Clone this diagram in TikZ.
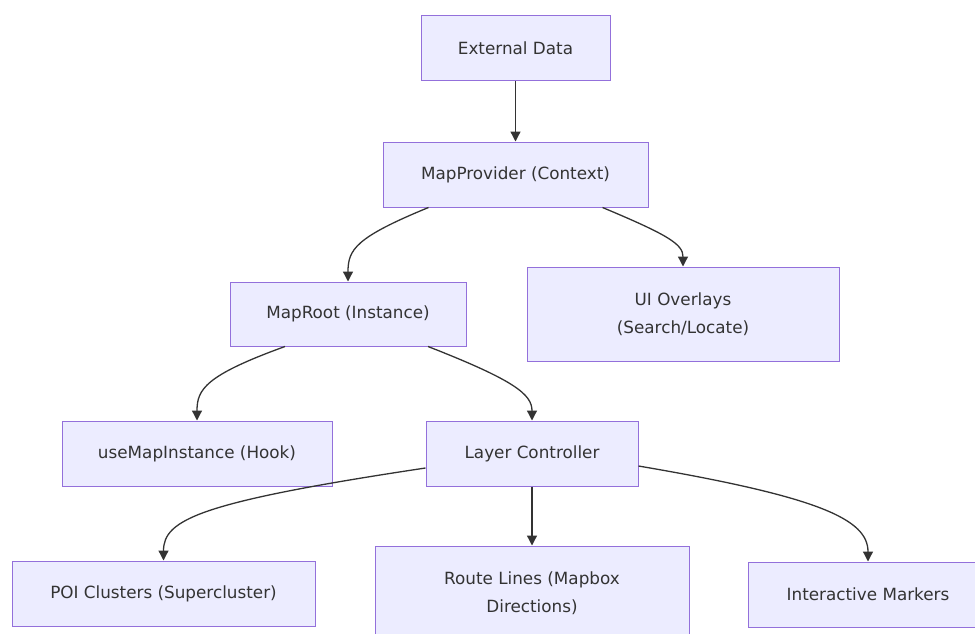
\documentclass[tikz,border=0pt]{standalone}
\usepackage{fontspec}
\setmainfont{DejaVu Sans}
\usetikzlibrary{arrows.meta}
\definecolor{boxfill}{HTML}{ECECFF}
\definecolor{boxline}{HTML}{9370DB}
\definecolor{edgecol}{HTML}{333333}

\begin{document}
\begin{tikzpicture}[x=1pt,y=-1pt,
	box/.style={draw=boxline,fill=boxfill,line width=1pt,text=edgecol,align=center,
		inner sep=0pt,font=\fontsize{16.8}{28}\selectfont},
	link/.style={draw=edgecol,line width=1.3pt,-{Triangle[length=10pt,width=10pt]}}]
	\useasboundingbox (0,0) rectangle (975,634);
	\clip (0,0) rectangle (975,634);
	% boxes
	\node[box,minimum width=189pt,minimum height=65pt] (ext) at (515.5,48.5) {External Data};
	\node[box,minimum width=265pt,minimum height=65pt] (prov) at (515.5,174.5) {MapProvider (Context)};
	\node[box,minimum width=236pt,minimum height=64pt] (root) at (348,314) {MapRoot (Instance)};
	\node[box,minimum width=312pt,minimum height=94pt] (ui) at (683,314) {UI Overlays\\(Search/Locate)};
	\node[box,minimum width=270pt,minimum height=65pt] (hook) at (197,453.5) {useMapInstance (Hook)};
	\node[box,minimum width=212pt,minimum height=65pt] (layer) at (532,453.5) {Layer Controller};
	\node[box,minimum width=303pt,minimum height=65pt] (poi) at (163.5,593.5) {POI Clusters (Supercluster)};
	\node[box,minimum width=314pt,minimum height=94pt] (route) at (532,593) {Route Lines (Mapbox\\Directions)};
	\node[box,minimum width=240pt,minimum height=65pt] (mark) at (868,594.5) {Interactive Markers};
	% links
	\draw[link] (ext) -- (prov);
	\draw[link] ([xshift=-87pt]prov.south) .. controls +(-73,30) and +(0,-32) .. (root.north);
	\draw[link] ([xshift=87pt]prov.south) .. controls +(67,28) and +(0,-22) .. (ui.north);
	\draw[link] ([xshift=-63pt]root.south) .. controls +(-80,29) and +(0,-31) .. (hook.north);
	\draw[link] ([xshift=80pt]root.south) .. controls +(87,34) and +(0,-26) .. (layer.north);
	\draw[link] ([yshift=-14.5pt]layer.west) .. controls +(-226,34) and +(0,-41) .. (poi.north);
	\draw[link] (layer) -- (route);
	\draw[link] ([yshift=-12.5pt]layer.east) .. controls +(182,31) and +(0,-42) .. (mark.north);
\end{tikzpicture}
\end{document}
